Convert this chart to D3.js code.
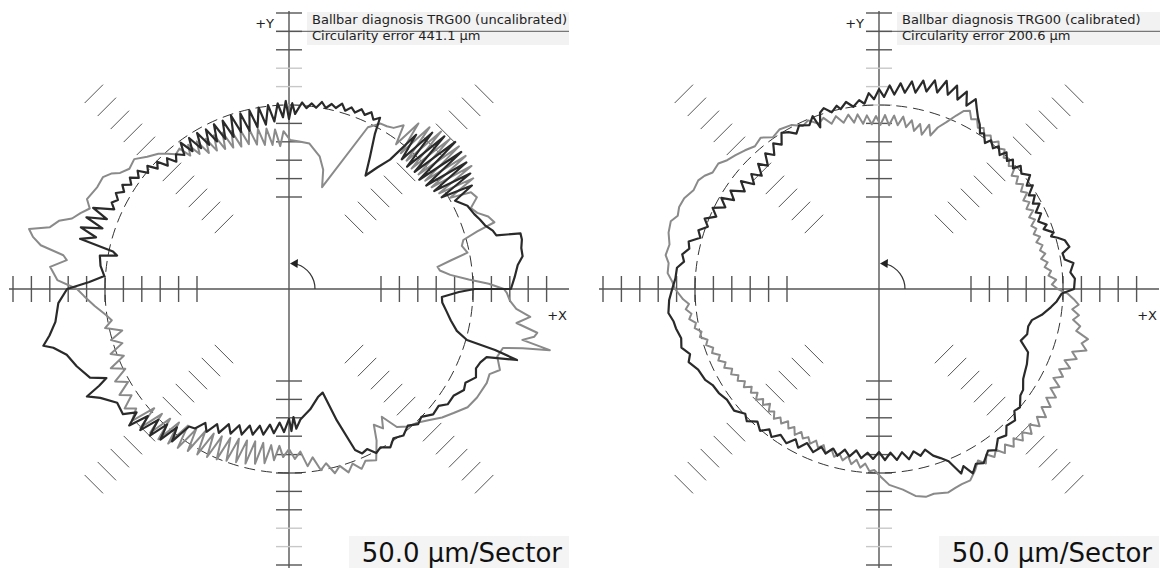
<!DOCTYPE html>
<meta charset="utf-8">
<head>
<style>
  body { margin: 0; background: #fff; }
  svg { display: block; }
  text { font-family: "DejaVu Sans", Verdana, sans-serif; fill: #222; }
  .axis { stroke: #555; stroke-width: 1.4; }
  .tick { stroke: #555; stroke-width: 1.4; }
  .tick.light { stroke: #c8c8c8; }
  .hash { stroke: #555; stroke-width: 1; }
  .nominal { fill: none; stroke: #333; stroke-width: 1; stroke-dasharray: 11,6; }
  .trace { fill: none; stroke-linejoin: round; }
</style>
<script src="https://d3js.org/d3.v7.min.js"></script>
</head>
<body>
<svg id="chart" width="1160" height="568"></svg>
<script>
// ballbar traces, [angle in deg (ccw from +X), radial deviation in µm]
var leftBlack = [[0,103],[3,114],[6,125],[8,141],[10,141],[12,147],[13.5,147],[14.5,82],[16,76],[18,60],[20,52],[22,43],[25,35],[28,11],
  [29.5,71],[31,-16],[32.5,84],[34,-24],[35.5,92],[37,-33],[38.5,98],[40,-38],[41.5,103],[43,-33],[44.5,92],[46,-38],[47.5,76],[49,-33],[50.5,43],
  [52,-54],[54,-92],[56,-128],[58.5,-79],[61,-19],[62,27],[63.5,14],[65,30],[66.5,16],[68,27],[69.5,12],[71,22],[72.5,8],[74,24],[75.5,8],
  [77,16],[78.5,2],[80,16],[81.5,-2],[83,8],[84.5,-6],[86,8],[88,-24],[89,5],[90,-38],
  [91,11],[92,-33],[93.5,5],[95,-43],[96.5,3],[98,-49],[99.5,0],[101,-52],[102.5,-3],[104,-57],[105.5,-5],[107,-54],[108.5,-3],[110,-60],
  [111.5,-8],[113,-57],[114.5,-8],[116,-54],[117.5,-11],[119,-52],[120.5,-8],[122,-49],[123.5,-8],[125,-43],[126.5,-5],[128,-38],[130,-22],
  [131.5,-38],[133,-14],[134.5,-30],[136,-2],[137.5,-16],[139,10],[140.5,-4],[142,22],[143.5,8],[145,28],[146.5,14],[148,34],[149.5,20],
  [151,38],[152.5,24],[154,36],[155.5,22],[157.5,76],[159,30],[160.5,84],[162,33],[163.5,90],[165,43],
  [166.5,84],[168,-11],[169,-24],[170,22],[173,16],[176,3],[178,43],[180,103],[183.5,128],[188,141],[191,163],[193,185],[194,160],[196.5,130],
  [200,114],[204,92],[206,52],[207,79],[208,122],[210,92],[213.5,60],[217,65],[219,33],[220.5,71],[222,16],[223.5,57],[225,3],[226.5,49],
  [228,-5],[229.5,38],[231,-16],[232.5,22],[234,-38],[236,-43],[238,-71],[240,-52],[242,-84],[244,-65],[246,-98],[248,-76],[250,-106],[252,-84],
  [254,-114],[256,-92],[258,-120],[260,-98],[262,-128],[264,-106],[266,-136],[268,-111],[270,-147],[271,-114],[272,-152],[273,-120],[275,-144],
  [280,-168],[285,-196],[288,-204],[290,-120],[292.3,-27],[294,-11],[296,-16],[298,5],[300,-3],[302.6,11],[305,-5],[308,5],[311,-8],[313.7,8],
  [316,0],[319,19],[322,16],[324,33],[327,33],[330,49],[332,43],[334.7,62],[337,52],[339,57],[341,68],[342.7,149],[343.5,84],[344,3],[346,-30],
  [349,-52],[352,-68],[355,-82],[357,-84],[359,-38],[360,5]];

var leftGrey = [[0,84],[1.5,43],[3,-11],[5,-60],[7,-87],[8.5,-92],[10,-54],[11.5,-5],[14,-16],[15.7,-8],[17,35],[18,87],[20,76],[22,52],[24,41],
  [26,68],[28,60],[29.5,3],[31,84],[32.5,-16],[34,98],[35.5,-24],[37,101],[38.5,-27],[40,103],[41.5,-30],[43,98],[44.5,-33],[46,95],[47.5,-27],
  [49,82],[50.5,-22],[52,71],[53.5,-11],[55,43],[57,22],[59,16],[61,14],[64,-11],[72,-209],[74,-163],[77,-130],[82,-101],[86,-98],[89.6,-95],
  [92,-71],[93.5,-111],[95,-65],[96.5,-106],[98,-60],[99.5,-103],[101,-57],[102.5,-98],[104,-52],[105.5,-92],[107,-49],[108.5,-92],[110,-43],
  [111.5,-87],[113,-38],[114.5,-82],[116,-35],[117.5,-76],[119,-33],[120.5,-71],[122,-27],[123.5,-60],[125,-22],[126.5,-49],[128,-16],[130,-22],
  [132,-5],[134,11],[137,27],[140,49],[143,43],[145.5,57],[147,76],[149,90],[152,90],[156,101],[158,84],[160,103],[162,120],[163.5,152],
  [165.5,171],[167,225],[168.5,210],[170,185],[171.5,120],[172.6,109],[174.7,152],[177.8,130],[180,76],[182,57],[185,30],[188,3],[190,-11],
  [192,11],[194,-33],[196,3],[198,-24],[200,16],[202,-16],[204,30],[206,-5],[208,35],[210,5],[212,43],[214,16],[216,52],[218,27],[220,57],
  [221.5,-11],[223,52],[224.5,-16],[226,43],[227.5,-22],[229,41],[230.5,-30],[232,33],[233.5,-38],[235,27],[236.5,-43],[238,19],[239.5,-52],
  [241,14],[242.5,-57],[244,8],[245.5,-60],[247,3],[248.5,-65],[250,-3],[251.5,-71],[253,-8],[254.5,-73],[256,-11],[257.5,-76],[259,-16],
  [260.5,-76],[262,-22],[263.5,-73],[265,-33],[266.5,-73],[268,-43],[270,-65],[272,-38],[274,-57],[276,-16],[278,-38],[280,0],[282,-16],
  [284,16],[286,0],[288,24],[290,5],[292,27],[294,11],[297,22],[300,-24],[302,-65],[304,-43],[306,-71],[308,-24],[311,-5],[313.7,3],[317,22],
  [320,43],[323,60],[326.5,82],[330,90],[334.6,95],[337,92],[339,114],[342,95],[344.6,103],[345.8,155],[346.8,228],[347.7,149],[349,179],
  [350,185],[351.5,125],[353.4,160],[355,120],[357,101],[359,92]];

var rightBlack = [[0,30],[3,33],[5,22],[7.6,33],[9,11],[11,8],[12.5,30],[14.7,22],[16,5],[17,-11],[18,-2],[20,-24],[21,-12],[23,-30],[25,-14],
  [26,-26],[28,-6],[29,-22],[31,-6],[32,-20],[34,4],[35,-10],[37,14],[39,-2],[41,10],[42,-10],[44,6],[45,-8],[47,8],[48,-10],[50,6],[51,-8],
  [53,6],[54,-10],[56,10],[57,4],[58.5,24],[60,38],[61.5,57],[63,79],[64.5,52],[66,87],[67.5,57],[69,92],
  [70.5,60],[72,95],[73.5,57],[75,87],[76.5,52],[78,79],[79.5,43],[81,71],[82.5,38],[84,62],[85.5,30],[87,54],[88.5,22],[90,43],[91.5,16],
  [93,33],[94.5,5],[96,16],[98,0],[100,16],[102,0],[103,11],[105,-3],[107,14],[108.5,5],[110,-33],[111,3],[113,-16],[116,-5],[118,-22],[120,-8],
  [122,0],[124,-27],[126,-11],[128,-38],[130,-19],[132,-49],[134,-27],[136,-57],[138,-33],[140,-57],[142,-24],[144,-49],[146.5,-16],[148.5,-38],
  [150,-5],[152,-27],[154,3],[156,-16],[158,11],[160,-5],[162,16],[164,5],[166,33],[168,27],[170,43],[172,35],[174,52],[177,54],[180,62],
  [183,71],[186.5,76],[189,65],[191,62],[194,54],[196.5,60],[199,43],[201,54],[204,38],[207.6,33],[210,22],[213,19],[216,11],[220,14],[223,-3],
  [225,8],[227.5,-11],[230,3],[232,-16],[234,-3],[236,-22],[239,-11],[241,-33],[243,-16],[245,-38],[248,-22],[250,-43],[252,-30],[254,-49],
  [256,-33],[258,-54],[260,-38],[262,-57],[264,-38],[266,-54],[268,-38],[270,-57],[272,-35],[274,-54],[276,-33],[278,-52],[280,-30],[282,-49],
  [284,-33],[286,-46],[288,-24],[290,-11],[292,5],[294,49],[295.5,33],[297,62],[299,43],[301,52],[304,30],[306,41],[308.5,19],[311,27],[313,8],
  [316,14],[318,-5],[320,0],[323,-19],[325,-22],[328,-38],[330,-43],[333,-49],[337,-60],[340,-90],[343,-79],[346,-82],[348.5,-76],[351,-52],
  [354,-30],[356,-16],[358.6,-3]];

var rightGrey = [[0,-14],[1.5,-30],[3,-18],[4.5,-38],[6,-30],[7.5,-46],[9,-36],[10.5,-52],[12,-38],[13.5,-50],[15,-40],[16.5,-54],[18,-40],
  [19.5,-54],[21,-42],[22.5,-52],[24,-36],[25.5,-48],[27,-30],[28.5,-44],[30,-28],[31.5,-40],[33,-20],[34.5,-32],[36,-16],[37.5,-30],[39,-14],
  [40.5,-26],[42,-2],[43.5,-14],[45,0],[46.5,-8],[48,10],[49.5,2],[51,16],[52.5,2],[54,16],[55.5,6],[57,22],[58.5,14],[60,33],[61.5,25],
  [63,44],[64.5,36],[66,16],[68,-11],[70,-33],[71.5,-60],[73,-33],
  [74.5,-65],[76,-38],[77.5,-60],[79,-33],[80.5,-54],[82,-27],[83.5,-52],[85,-27],[86.5,-54],[88,-27],[89.5,-54],[91,-30],[92.5,-52],[94,-27],
  [95.5,-49],[97,-22],[98.5,-43],[100,-19],[102,-38],[104,-16],[106,-33],[108,-11],[110,-22],[112.8,-3],[115,-11],[118,5],[122,11],[125,3],
  [128,22],[131,14],[134,24],[137,33],[139.7,41],[142,54],[145,52],[147,65],[149,73],[152,71],[155,84],[157.7,87],[160,82],[162,95],[165,92],
  [168,82],[171,87],[173,76],[175.7,76],[178,62],[180,54],[183,33],[184.5,18],[186,28],[187.5,14],[189,22],[190.5,6],[192,12],[193.5,-4],
  [195,4],[196.5,-14],[198,-6],[199.5,-22],[201,-14],[202.5,-32],[204,-22],[205.5,-38],[207,-28],[208.5,-46],[210,-36],[211.5,-52],[213,-42],
  [214.5,-58],[216,-46],[217.5,-64],[219,-52],[220.5,-66],[222,-50],[223.5,-66],[225,-54],[226.5,-70],[228,-52],[229.5,-62],[231,-46],
  [232.5,-60],[234,-48],[235.5,-64],[237,-48],[238.5,-60],[240,-42],[241.5,-58],[243,-44],[244.5,-54],[246,-40],[247.5,-54],[249,-38],
  [250.5,-50],[252,-30],[253.5,-46],[255,-28],[256.5,-40],[258,-24],[259.5,-38],[261,-18],[262.5,-32],[264,-12],[265.5,-24],[267,-4],
  [268.5,-8],[270.6,11],[273,33],[276.8,49],[280,71],[282.7,79],[285,76],[288.7,84],
  [291,79],[293,76],[295.5,76],[298,57],[300,38],[301.5,56],[303,36],[304.5,54],[306,40],[307.5,62],[309,44],[310.5,64],[312,46],[313.5,68],
  [315,50],[316.5,72],[318,50],[319.5,74],[321,52],[322.5,72],[324,46],[325.5,66],[327,42],[328.5,64],[330,38],[331.5,58],[333,32],[334.5,54],
  [336,36],[337.5,62],[339,40],[340.5,70],[342,52],[343.5,88],[345,70],[346.5,84],[348,48],[349.5,56],[351,34],[352.5,48],[354,28],[355.5,44],
  [357,30],[358.5,14]];

var sectorTicks = [-250, -200, -150, -100, -50, 0, 50, 100, 150, 200, 250];   // µm, 50 µm per sector
var hashAngles = [45, 135, 225, 315];
var titles = ["Ballbar diagnosis TRG00 (uncalibrated)", "Ballbar diagnosis TRG00 (calibrated)"];
var circularity = ["441.1", "200.6"];
var scaleLabel = "50.0 µm/Sector";

var svg = d3.select("#chart");

// radial deviation scale: nominal radius sits on the middle tick
var r = d3.scaleLinear().domain([-250, 250]).range([92, 276]);

var line = d3.lineRadial()
  .angle(function(d) { return (90 - d[0]) * Math.PI / 180; })
  .radius(function(d) { return r(d[1]); })
  .curve(d3.curveLinearClosed);

function drawPlot(cx, cy, grey, black, title, circ, right) {
  var g = svg.append("g").attr("transform", "translate(" + cx + "," + cy + ")");

  // header box
  g.append("rect").attr("x", 18).attr("y", -277).attr("width", right).attr("height", 33).attr("fill", "#f2f2f2");
  g.append("line").attr("x1", -13).attr("x2", 18 + right).attr("y1", -r(200)).attr("y2", -r(200))
    .attr("stroke", "#777").attr("stroke-width", 1.2);
  g.append("text").attr("x", 23).attr("y", -265).style("font-size", "13px").text(title);
  g.append("text").attr("x", 23).attr("y", -249).style("font-size", "13px").text("Circularity error " + circ + " µm");

  // scale label box
  g.append("rect").attr("x", 60).attr("y", 247).attr("width", 220).attr("height", 32).attr("fill", "#f4f4f4");
  g.append("text").attr("x", 273).attr("y", 273).attr("text-anchor", "end").style("font-size", "26px").style("fill", "#111").text(scaleLabel);

  // axes
  g.append("line").attr("class", "axis").attr("x1", -280).attr("x2", 280).attr("y1", 0).attr("y2", 0);
  g.append("line").attr("class", "axis").attr("x1", 0).attr("x2", 0).attr("y1", -278).attr("y2", 568 - cy);

  // ticks along X (the +X side stops one sector short)
  sectorTicks.forEach(function(t) {
    g.append("line").attr("class", "tick").attr("x1", -r(t)).attr("x2", -r(t)).attr("y1", -13).attr("y2", 13);
    if (t < 250) g.append("line").attr("class", "tick").attr("x1", r(t)).attr("x2", r(t)).attr("y1", -13).attr("y2", 13);
  });
  // ticks along Y
  sectorTicks.forEach(function(t) {
    g.append("line").attr("class", "tick" + (t == 0 || t == 50 || t == 100 ? " light" : ""))
      .attr("x1", -13).attr("x2", 13).attr("y1", -r(t)).attr("y2", -r(t));
    g.append("line").attr("class", "tick" + (t == 150 || t == 200 ? " light" : ""))
      .attr("x1", -13).attr("x2", 13).attr("y1", r(t)).attr("y2", r(t));
  });

  // diagonal hash marks
  hashAngles.forEach(function(a) {
    var rad = a * Math.PI / 180, ux = Math.cos(rad), uy = -Math.sin(rad);
    sectorTicks.filter(function(t) { return t != 0; }).forEach(function(t) {
      var px = ux * r(t), py = uy * r(t);
      g.append("line").attr("class", "hash")
        .attr("x1", px - uy * 13).attr("y1", py + ux * 13)
        .attr("x2", px + uy * 13).attr("y2", py - ux * 13);
    });
  });

  // nominal circle
  g.append("circle").attr("class", "nominal").attr("r", r(0));

  // measured traces
  g.append("path").attr("class", "trace").attr("d", line(grey)).attr("stroke", "#8a8a8a").attr("stroke-width", 2);
  g.append("path").attr("class", "trace").attr("d", line(black)).attr("stroke", "#2a2a2a").attr("stroke-width", 2.2);

  // direction arrow
  g.append("path").attr("d", "M26,0 A26,26 0 0,0 8,-24.7").attr("fill", "none").attr("stroke", "#333").attr("stroke-width", 1.2);
  g.append("path").attr("d", "M1,-25.5 L9,-30 L8.5,-21 Z").attr("fill", "#222");

  // axis labels
  g.append("text").attr("x", -15).attr("y", -261).attr("text-anchor", "end").style("font-size", "13px").text("+Y");
  g.append("text").attr("x", 278).attr("y", 31).attr("text-anchor", "end").style("font-size", "13px").text("+X");
}

drawPlot(289, 289, leftGrey, leftBlack, titles[0], circularity[0], 262);
drawPlot(879, 289, rightGrey, rightBlack, titles[1], circularity[1], 263);
</script>
</body>
